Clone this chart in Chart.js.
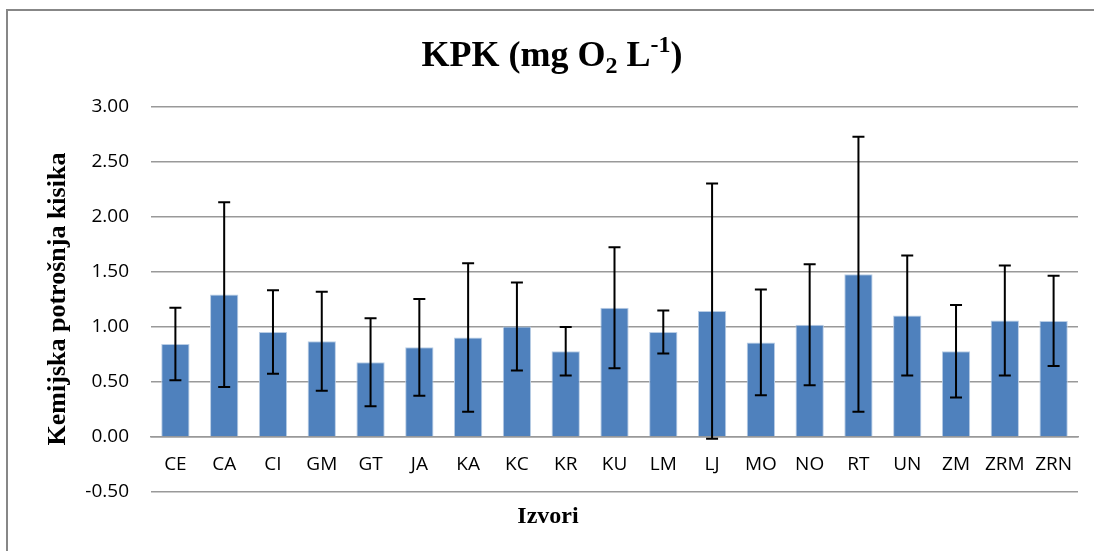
<!DOCTYPE html>
<html>
<head>
<meta charset="utf-8">
<script src="https://cdn.jsdelivr.net/npm/chart.js@4.4.1/dist/chart.umd.min.js"></script>
<style>
  html, body { margin: 0; padding: 0; background: #fff; }
  #wrap { width: 1094px; height: 551px; position: relative; }
</style>
</head>
<body>
<div id="wrap"><canvas id="kpkChart" width="1094" height="551"></canvas></div>
<script>
// data
const sources = ['CE','CA','CI','GM','GT','JA','KA','KC','KR','KU','LM','LJ','MO','NO','RT','UN','ZM','ZRM','ZRN'];
const kpkMean = [0.845, 1.295, 0.955, 0.87, 0.68, 0.815, 0.905, 1.005, 0.78, 1.175, 0.955, 1.145, 0.86, 1.02, 1.48, 1.105, 0.78, 1.06, 1.055];
const kpkErr  = [0.33, 0.84, 0.38, 0.45, 0.40, 0.44, 0.675, 0.40, 0.22, 0.55, 0.195, 1.16, 0.48, 0.55, 1.25, 0.545, 0.42, 0.50, 0.41];
const yTicks  = [-0.5, 0, 0.5, 1, 1.5, 2, 2.5, 3];

const serif = '"Liberation Serif", "Times New Roman", serif';
const sans = '"Open Sans", "Noto Sans", sans-serif';

// error bars, drawn through the scales
const errorBars = {
  id: 'errorBars',
  afterDatasetsDraw(chart) {
    const ctx = chart.ctx;
    const x = chart.scales.x, y = chart.scales.y;
    ctx.save();
    ctx.strokeStyle = '#000';
    ctx.lineWidth = 2;
    kpkMean.forEach((m, i) => {
      const px = x.getPixelForValue(i);
      const top = y.getPixelForValue(m + kpkErr[i]);
      const bot = y.getPixelForValue(m - kpkErr[i]);
      ctx.beginPath();
      ctx.moveTo(px, top); ctx.lineTo(px, bot);
      ctx.moveTo(px - 6, top); ctx.lineTo(px + 6, top);
      ctx.moveTo(px - 6, bot); ctx.lineTo(px + 6, bot);
      ctx.stroke();
    });
    ctx.restore();
  }
};

// frame, title with sub/superscript, axis titles
const decorations = {
  id: 'decorations',
  beforeDraw(chart) {
    const ctx = chart.ctx;
    ctx.save();
    ctx.strokeStyle = '#878787';
    ctx.lineWidth = 2;
    ctx.beginPath();
    ctx.moveTo(7, 551); ctx.lineTo(7, 10); ctx.lineTo(1094, 10);
    ctx.stroke();
    ctx.restore();
  },
  afterDraw(chart) {
    const ctx = chart.ctx;
    ctx.save();
    ctx.fillStyle = '#000';
    // title
    const big = 'bold 36px ' + serif, small = 'bold 24px ' + serif;
    const parts = [
      { t: 'KPK (mg O', f: big, dy: 0 },
      { t: '2', f: small, dy: 7 },
      { t: ' L', f: big, dy: 0 },
      { t: '-1', f: small, dy: -14 },
      { t: ')', f: big, dy: 0 }
    ];
    let total = 0;
    parts.forEach(p => { ctx.font = p.f; p.w = ctx.measureText(p.t).width; total += p.w; });
    let cx = 552 - total / 2;
    const base = 66;
    ctx.textBaseline = 'alphabetic';
    ctx.textAlign = 'left';
    parts.forEach(p => { ctx.font = p.f; ctx.fillText(p.t, cx, base + p.dy); cx += p.w; });
    // x axis title
    ctx.font = 'bold 24px ' + serif;
    ctx.textAlign = 'center';
    ctx.textBaseline = 'middle';
    ctx.fillText('Izvori', 548, 517);
    // y axis title
    ctx.translate(58, 299);
    ctx.rotate(-Math.PI / 2);
    ctx.font = 'bold 26px ' + serif;
    ctx.fillText('Kemijska potrošnja kisika', 0, 0);
    ctx.restore();
  }
};

new Chart(document.getElementById('kpkChart'), {
  type: 'bar',
  data: {
    labels: sources,
    datasets: [{
      data: kpkMean,
      backgroundColor: '#4F81BD',
      borderColor: '#B9CDE5',
      borderWidth: 1,
      barPercentage: 0.58,
      categoryPercentage: 1
    }]
  },
  options: {
    responsive: false,
    animation: false,
    layout: { padding: { top: 107, right: 16, bottom: 59, left: 0 } },
    plugins: { legend: { display: false }, tooltip: { enabled: false }, title: { display: false } },
    scales: {
      x: {
        position: { y: 0 },
        grid: { display: false, drawTicks: false },
        border: { display: true, color: '#999', width: 1.5 },
        ticks: { color: '#000', font: { family: sans, size: 19 }, padding: 16, maxRotation: 0, autoSkip: false }
      },
      y: {
        min: -0.5,
        max: 3,
        afterBuildTicks: (scale) => { scale.ticks = yTicks.map(v => ({ value: v })); },
        afterFit: (scale) => { scale.width = 151; },
        grid: { color: '#999', lineWidth: 1.5, drawTicks: false },
        border: { display: false },
        ticks: {
          color: '#000',
          font: { family: sans, size: 19 },
          padding: 22,
          callback: v => v.toFixed(2)
        }
      }
    }
  },
  plugins: [errorBars, decorations]
});
</script>
</body>
</html>
